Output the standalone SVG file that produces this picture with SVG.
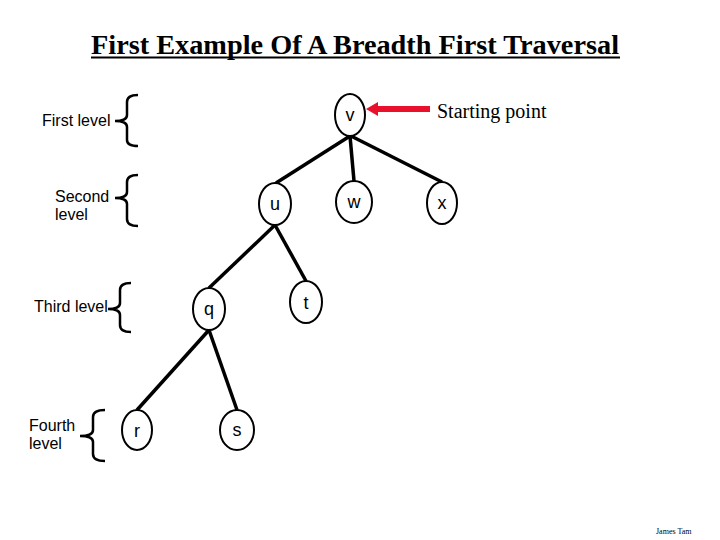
<svg xmlns="http://www.w3.org/2000/svg" width="720" height="540" viewBox="0 0 720 540">
<style>
.title{font-family:"Liberation Serif","Times New Roman",serif;font-weight:bold;font-size:28px;fill:#000}
.lbl{font-family:"Liberation Sans",Arial,sans-serif;font-size:16px;fill:#000}
.nt{font-family:"Liberation Sans",Arial,sans-serif;font-size:18px;fill:#000;text-anchor:middle}
.node ellipse{fill:#fff;stroke:#000;stroke-width:2}
.edge{stroke:#000;stroke-width:3.5;fill:none}
.brace{stroke:#000;stroke-width:2.5;fill:none}
.serif{font-family:"Liberation Serif","Times New Roman",serif;fill:#000}
</style>
<rect width="720" height="540" fill="#fff"/>
<g id="title">
<text class="title" x="91" y="54" textLength="528" lengthAdjust="spacingAndGlyphs">First Example Of A Breadth First Traversal</text>
<line x1="91" y1="57.5" x2="620" y2="57.5" stroke="#000" stroke-width="2"/>
</g>
<g id="levels">
<text class="lbl" x="42" y="126">First level</text>
<path class="brace" d="M138,95 Q127,95 127,102 L127,115 Q127,121 115,121 Q127,121 127,127 L127,140 Q127,146 138,146"/>
<text class="lbl" x="55" y="202">Second</text>
<text class="lbl" x="55" y="220">level</text>
<path class="brace" d="M138,175 Q127,175 127,182 L127,192 Q127,198 115,198 Q127,198 127,204 L127,219 Q127,226 138,226"/>
<text class="lbl" x="34" y="312">Third level</text>
<path class="brace" d="M131,283 Q120,283 120,290 L120,303 Q120,309 108,309 Q120,309 120,315 L120,325 Q120,332 131,332"/>
<text class="lbl" x="29" y="431">Fourth</text>
<text class="lbl" x="29" y="449">level</text>
<path class="brace" d="M105,410 Q93,410 93,417 L93,430 Q93,436 80,436 Q93,436 93,442 L93,454 Q93,461 105,461"/>
</g>
<g id="connectors">
<line class="edge" x1="350" y1="136" x2="276" y2="183"/>
<line class="edge" x1="350" y1="136" x2="354" y2="181"/>
<line class="edge" x1="351" y1="136" x2="442" y2="182"/>
<line class="edge" x1="275" y1="225" x2="209" y2="288"/>
<line class="edge" x1="275" y1="225" x2="306" y2="281"/>
<line class="edge" x1="209" y1="330" x2="137" y2="410"/>
<line class="edge" x1="209" y1="330" x2="237" y2="410"/>
</g>
<g id="node-v" class="node"><ellipse cx="350" cy="115" rx="15" ry="21"/><text class="nt" x="350" y="121">v</text></g>
<g id="node-u" class="node"><ellipse cx="275" cy="204" rx="16" ry="21"/><text class="nt" x="275" y="210">u</text></g>
<g id="node-w" class="node"><ellipse cx="354" cy="202" rx="18" ry="21"/><text class="nt" x="354" y="208">w</text></g>
<g id="node-x" class="node"><ellipse cx="442" cy="203" rx="15" ry="21"/><text class="nt" x="442" y="209">x</text></g>
<g id="node-q" class="node"><ellipse cx="209" cy="309" rx="16" ry="21"/><text class="nt" x="209" y="315">q</text></g>
<g id="node-t" class="node"><ellipse cx="306" cy="302" rx="16" ry="21"/><text class="nt" x="306" y="309">t</text></g>
<g id="node-r" class="node"><ellipse cx="137" cy="430" rx="15" ry="20"/><text class="nt" x="137" y="437">r</text></g>
<g id="node-s" class="node"><ellipse cx="237" cy="430" rx="17" ry="20"/><text class="nt" x="237" y="436">s</text></g>
<g id="start">
<line x1="430" y1="109" x2="375" y2="109" stroke="#e8102a" stroke-width="6"/>
<polygon points="366,109 378,102 378,116" fill="#e8102a"/>
<text class="serif" x="437" y="118" font-size="20">Starting point</text>
</g>
<text class="serif" x="656" y="534" font-size="8">James Tam</text>
</svg>
